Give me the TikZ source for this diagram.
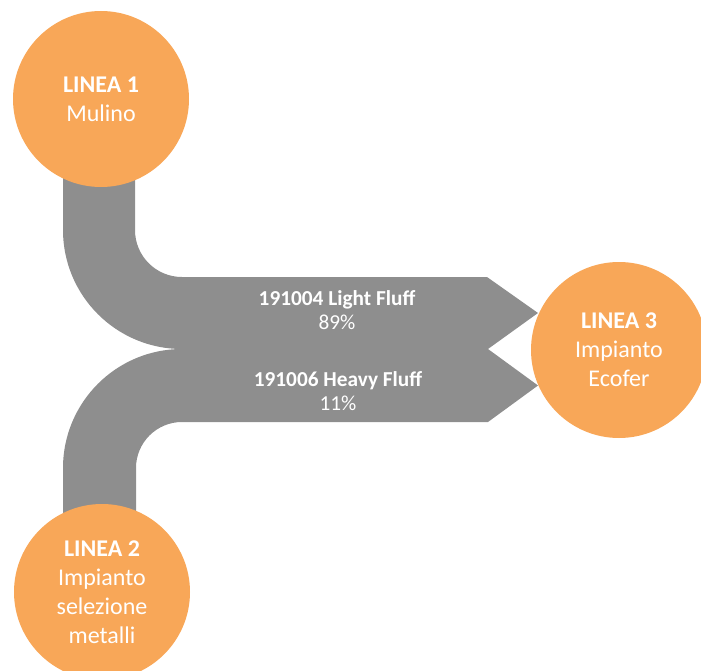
\documentclass[tikz,border=0pt]{standalone}
\usepackage{fontspec}
\setmainfont{Carlito}
\definecolor{flowgray}{RGB}{142,142,142}
\definecolor{lineorange}{RGB}{248,167,88}

\begin{document}
\begin{tikzpicture}[x=1pt,y=-1pt,
  station/.style={circle, fill=lineorange, minimum size=176pt, inner sep=0pt,
    text=white, align=center, font=\fontsize{24}{29}\selectfont},
  flowlabel/.style={text=white, align=center, font=\fontsize{21.3}{24.5}\selectfont},
  band/.style={fill=flowgray}]
\useasboundingbox (0,0) rectangle (701,671);

% flow bands: upper one from Linea 1, lower one from Linea 2, both ending in arrow heads
\fill[band]
  % Linea 1 -> Linea 3
  (135,160) -- (135,230) .. controls (135,256) and (156,277) .. (182,277)
  -- (487,277) -- (538,313) -- (488,349) -- (182,349)
  .. controls (116.3,349) and (63,295.7) .. (63,230) -- (63,160) -- cycle
  % Linea 2 -> Linea 3
  (182,349) -- (488,349) -- (538,385.5) -- (488,422) -- (182,422)
  .. controls (156.6,422) and (136,442.6) .. (136,468) -- (136,540)
  -- (63,540) -- (63,468) .. controls (63,402.3) and (116.3,349) .. (182,349) -- cycle;

% band labels
\node[flowlabel] (light) at (337,310) {\textbf{191004 Light Fluff}\\89\%};
\node[flowlabel] (heavy) at (338,391) {\textbf{191006 Heavy Fluff}\\11\%};

% production lines
\node[station] (l1) at (101,99) {\textbf{LINEA 1}\\Mulino};
\node[station] (l2) at (102,592) {\textbf{LINEA 2}\\Impianto\\selezione\\metalli};
\node[station] (l3) at (619,350) {\textbf{LINEA 3}\\Impianto\\Ecofer};
\end{tikzpicture}
\end{document}
